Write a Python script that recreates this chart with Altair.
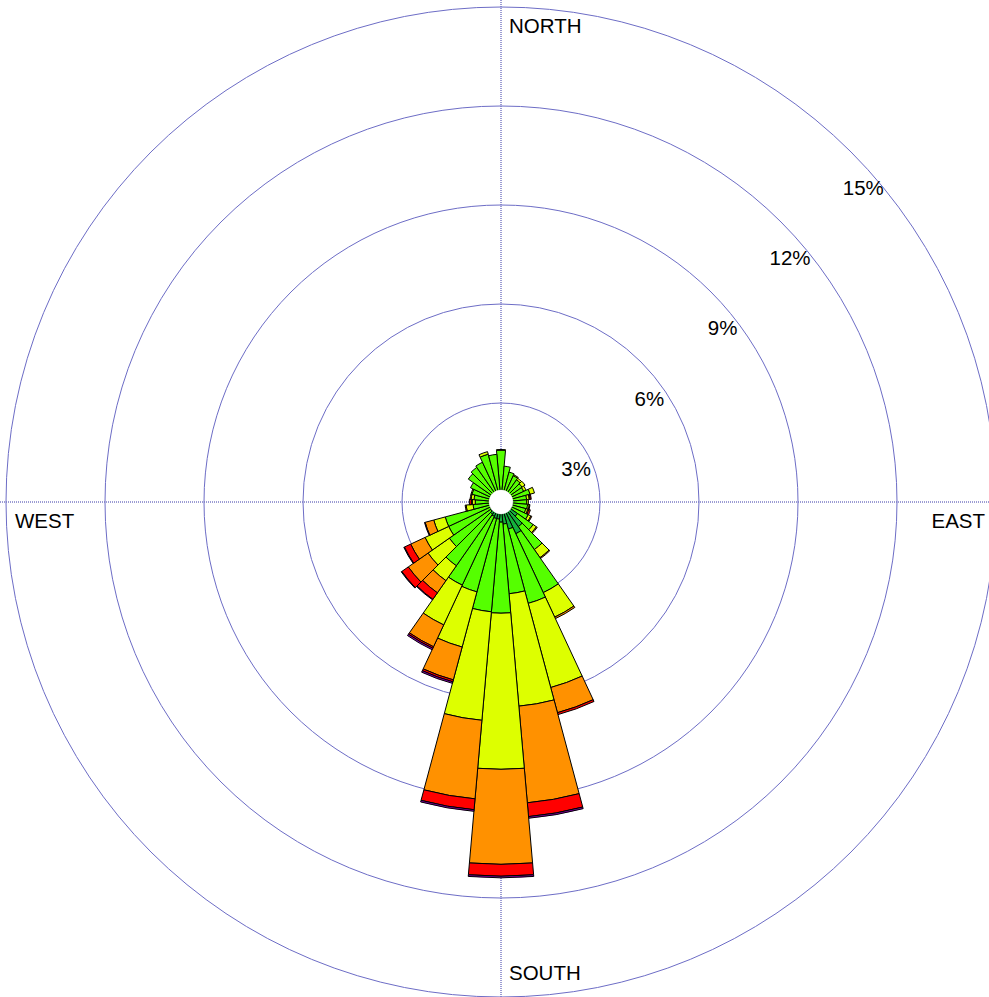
import math
import altair as alt
import pandas as pd

# Wind directions (degrees clockwise from north), one 10-degree sector each
directions = list(range(0, 360, 10))

# Frequency (% of hours) per direction for each wind speed class
speed_classes = ["0.5-2.1", "2.1-3.6", "3.6-5.7", "5.7-8.8", "8.8-11.1", ">=11.1"]
class_colors = ["#14b03c", "#55ff00", "#ddff00", "#ff9100", "#ff0000", "#8a00b0"]

freq_c1 = [0.30, 0.29, 0.31, 0.30, 0.28, 0.30, 0.29, 0.31, 0.30, 0.29, 0.30, 0.31,
           0.36, 0.61, 0.91, 1.06, 0.85, 0.67, 0.61, 0.52, 0.52, 0.48, 0.45, 0.39,
           0.36, 0.33, 0.30, 0.29, 0.31, 0.30, 0.29, 0.30, 0.31, 0.30, 0.29, 0.30]
freq_c2 = [1.27, 0.80, 0.63, 0.58, 0.54, 0.48, 0.47, 0.60, 0.48, 0.49, 0.51, 0.47,
           0.55, 0.58, 0.85, 1.97, 2.33, 2.12, 2.76, 2.82, 2.30, 2.30, 1.91, 1.52,
           1.39, 1.42, 0.55, 0.49, 0.51, 0.61, 0.73, 0.91, 0.97, 1.03, 1.21, 1.15]
freq_c3 = [0.02, 0.00, 0.00, 0.03, 0.06, 0.11, 0.08, 0.14, 0.08, 0.05, 0.05, 0.06,
           0.09, 0.12, 0.30, 0.82, 2.64, 3.42, 4.73, 3.30, 1.73, 1.33, 0.55, 0.79,
           0.79, 0.36, 0.21, 0.09, 0.09, 0.03, 0.00, 0.00, 0.00, 0.00, 0.08, 0.00]
freq_c4 = [0.00, 0.00, 0.00, 0.00, 0.00, 0.00, 0.00, 0.00, 0.03, 0.00, 0.02, 0.03,
           0.03, 0.03, 0.03, 0.05, 0.79, 2.94, 2.88, 2.39, 1.03, 0.73, 0.45, 0.73,
           0.48, 0.27, 0.03, 0.03, 0.03, 0.00, 0.00, 0.00, 0.00, 0.00, 0.00, 0.00]
freq_c5 = [0.00, 0.00, 0.00, 0.00, 0.00, 0.00, 0.00, 0.00, 0.03, 0.00, 0.00, 0.05,
           0.00, 0.00, 0.00, 0.00, 0.06, 0.42, 0.36, 0.33, 0.06, 0.05, 0.24, 0.24,
           0.21, 0.00, 0.00, 0.06, 0.00, 0.00, 0.00, 0.00, 0.00, 0.00, 0.00, 0.00]
freq_c6 = [0.00, 0.00, 0.00, 0.00, 0.00, 0.00, 0.00, 0.00, 0.00, 0.00, 0.00, 0.00,
           0.00, 0.00, 0.00, 0.00, 0.00, 0.05, 0.05, 0.05, 0.05, 0.05, 0.02, 0.02,
           0.02, 0.02, 0.00, 0.00, 0.00, 0.00, 0.00, 0.00, 0.00, 0.00, 0.00, 0.00]
class_freqs = [freq_c1, freq_c2, freq_c3, freq_c4, freq_c5, freq_c6]

# Calm share drawn as the empty circle in the middle
calm_pct = 0.36

# Frequency rings and their labels
ring_levels = [3, 6, 9, 12, 15]
ring_labels = ["3%", "6%", "9%", "12%", "15%"]

# ---- geometry of the plot ----
W, H = 989, 997
CX, CY = 501, 502
R_MAX_PX = 495
sector = 10

theta_scale = alt.Scale(type="linear", domain=[0, 360], range=[0, 2 * math.pi], nice=False, zero=False)
radius_scale = alt.Scale(type="linear", domain=[0, 15], range=[0, R_MAX_PX], nice=False, zero=True)

# Stack speed classes outward for every direction
rows = []
for i, d in enumerate(directions):
    base = 0.0
    for cls, vals in zip(speed_classes, class_freqs):
        v = vals[i]
        if v > 0:
            rows.append({"dir": d, "a0": d - sector / 2, "a1": d + sector / 2,
                         "cls": cls, "r0": base, "r1": base + v})
        base += v
bars = pd.DataFrame(rows)

rings = pd.DataFrame({"level": ring_levels, "label": ring_labels, "t0": 0, "t1": 360})

# Ring labels run along a straight diagonal line in the upper-right quadrant;
# convert each label's anchor on that line to polar form for the shared scales.
px_per_pct = R_MAX_PX / 15
label_theta, label_radius = [], []
for n, level in enumerate(ring_levels):
    ax = 90 + 73.2 * n
    ay = 32 + 70.3 * n
    label_theta.append(math.degrees(math.atan2(ax, ay)))
    label_radius.append(math.hypot(ax, ay) / px_per_pct)
rings["lt"] = label_theta
rings["lr"] = label_radius

calm = pd.DataFrame({"calm": [calm_pct], "t0": [0], "t1": [360]})

cx = alt.value(CX)
cy = alt.value(CY)

axis_color = "#3b3ba8"
ring_color = "#6d6dc6"

h_axis = alt.Chart(pd.DataFrame({"k": [0]})).mark_rule(
    color=axis_color, strokeWidth=1, strokeDash=[1, 1]
).encode(x=alt.value(0), x2=alt.value(W), y=cy)

v_axis = alt.Chart(pd.DataFrame({"k": [0]})).mark_rule(
    color=axis_color, strokeWidth=1, strokeDash=[1, 1]
).encode(y=alt.value(0), y2=alt.value(H), x=cx)

ring_layer = alt.Chart(rings).mark_arc(
    filled=False, stroke=ring_color, strokeWidth=1
).encode(
    theta=alt.Theta("t0:Q", scale=theta_scale, stack=False),
    theta2="t1:Q",
    radius=alt.Radius("level:Q", scale=radius_scale, stack=False),
    x=cx, y=cy,
)

bar_layer = alt.Chart(bars).mark_arc(stroke="black", strokeWidth=1).encode(
    theta=alt.Theta("a0:Q", scale=theta_scale, stack=False),
    theta2="a1:Q",
    radius=alt.Radius("r1:Q", scale=radius_scale, stack=False),
    radius2="r0:Q",
    color=alt.Color("cls:N", scale=alt.Scale(domain=speed_classes, range=class_colors), legend=None),
    x=cx, y=cy,
)

calm_layer = alt.Chart(calm).mark_arc(fill="white", stroke="white", strokeWidth=0.5).encode(
    theta=alt.Theta("t0:Q", scale=theta_scale, stack=False),
    theta2="t1:Q",
    radius=alt.Radius("calm:Q", scale=radius_scale, stack=False),
    x=cx, y=cy,
)

font = "Liberation Sans"
fsize = 20.5

ring_text = alt.Chart(rings).mark_text(
    align="right", baseline="middle", font=font, fontSize=fsize, color="black"
).encode(
    theta=alt.Theta("lt:Q", scale=theta_scale, stack=False),
    radius=alt.Radius("lr:Q", scale=radius_scale, stack=False),
    text="label:N",
    x=cx, y=cy,
)

def compass(text, x, y, align):
    return alt.Chart(pd.DataFrame({"t": [text]})).mark_text(
        align=align, baseline="alphabetic", font=font, fontSize=fsize, color="black"
    ).encode(text="t:N", x=alt.value(x), y=alt.value(y))

chart = alt.layer(
    h_axis, v_axis, ring_layer, bar_layer, calm_layer, ring_text,
    compass("NORTH", 509, 33, "left"),
    compass("SOUTH", 509, 980, "left"),
    compass("WEST", 15, 528, "left"),
    compass("EAST", 985, 528, "right"),
).properties(
    width=W, height=H, padding=0, background="white",
    autosize=alt.AutoSizeParams(type="none"),
).configure_view(strokeWidth=0)

chart.save("out.html", embed_options={"renderer": "svg", "actions": False})
